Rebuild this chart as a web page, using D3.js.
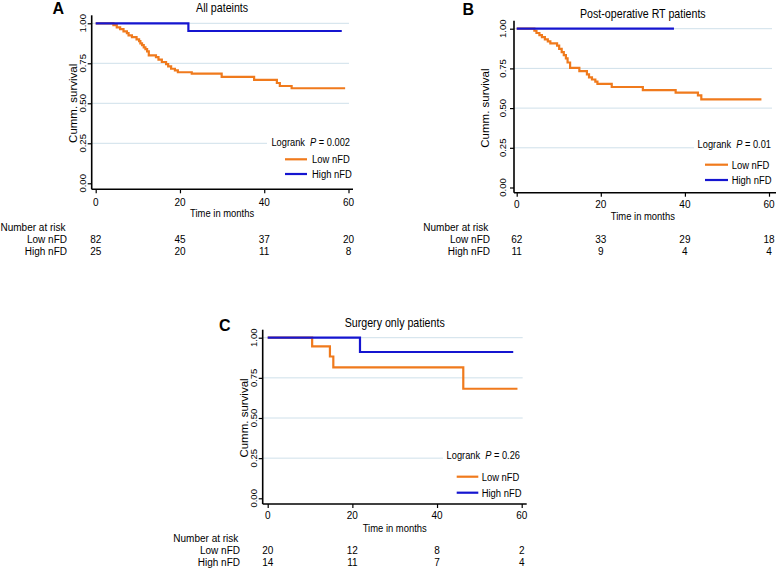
<!DOCTYPE html>
<html>
<head>
<meta charset="utf-8">
<script src="https://cdn.jsdelivr.net/npm/d3@7"></script>
<style>
  html, body { margin: 0; padding: 0; background: #fff; }
  svg { display: block; }
  text { font-family: 'Liberation Sans', Arial, sans-serif; fill: #000; }
</style>
</head>
<body>
<svg id="chart" width="778" height="569"></svg>
<script>
// ---------------- DATA ----------------
const timeTicks = [0, 20, 40, 60];
const survTicks = [0, 0.25, 0.5, 0.75, 1];
const gridTicks = [0.25, 0.5, 0.75, 1];
const groups = ["Low nFD", "High nFD"];

const titles = ["All pateints", "Post-operative RT patients", "Surgery only patients"];
const letters = ["A", "B", "C"];
const pValues = ["0.002", "0.01", "0.26"];

// Panel A — Kaplan–Meier steps (time in months, cumulative survival)
const aLowTime = [0, 4.2, 5.0, 5.8, 6.6, 7.4, 7.8, 8.6, 9.7, 10.3, 10.6, 11.0, 11.4, 11.8, 12.2, 12.6, 14.3, 14.9, 15.7, 16.7, 17.2, 17.9, 18.8, 19.5, 22.8, 29.9, 37.6, 43.0, 43.7, 46.5, 59.2];
const aLowSurv = [1, 0.988, 0.975, 0.963, 0.95, 0.938, 0.925, 0.913, 0.90, 0.888, 0.875, 0.863, 0.85, 0.838, 0.825, 0.80, 0.788, 0.773, 0.758, 0.745, 0.731, 0.716, 0.706, 0.694, 0.685, 0.665, 0.646, 0.627, 0.608, 0.594, 0.594];
const aHighTime = [0, 22.0, 58.4];
const aHighSurv = [1, 0.952, 0.952];

// Panel B
const bLowTime = [0, 4.2, 4.7, 5.4, 6.0, 6.7, 7.4, 8.0, 9.6, 10.1, 10.7, 11.2, 11.7, 12.1, 12.7, 14.9, 16.7, 17.2, 17.9, 18.7, 19.2, 22.6, 30.0, 37.8, 43.1, 43.9, 58.2];
const bLowSurv = [1, 0.987, 0.973, 0.96, 0.947, 0.933, 0.92, 0.907, 0.893, 0.873, 0.853, 0.833, 0.813, 0.787, 0.753, 0.733, 0.713, 0.693, 0.68, 0.667, 0.653, 0.633, 0.613, 0.597, 0.58, 0.555, 0.555];
const bHighTime = [0, 37.4];
const bHighSurv = [1, 1];

// Panel C
const cLowTime = [0, 10.5, 14.7, 15.5, 46.2, 59.0];
const cLowSurv = [1, 0.946, 0.883, 0.815, 0.682, 0.682];
const cHighTime = [0, 21.8, 58.0];
const cHighSurv = [1, 0.911, 0.911];

// Number at risk (at 0, 20, 40, 60 months)
const aRiskLow = [82, 45, 37, 20];
const aRiskHigh = [25, 20, 11, 8];
const bRiskLow = [62, 33, 29, 18];
const bRiskHigh = [11, 9, 4, 4];
const cRiskLow = [20, 12, 8, 2];
const cRiskHigh = [14, 11, 7, 4];

const colors = { low: "#F07A1C", high: "#1515D0" };

// ---------------- LAYOUT ----------------
const panels = [
  { x0: 95.7, x1: 348.5, yTop: 23.3, yBot: 183.3, axisX: 91.7, axisY: 189.3, right: 353,
    tickLblX: 85.5, yLblX: 77, letterX: 52.5, letterY: 14, titleY: 12,
    tickLblY: 205.5, xTitleY: 216.5, legRight: 350, legY: 141.7, legLineX: [285, 307], legTextX: 312, legRows: [159.3, 174],
    riskLeft: 0.5, riskLabelRight: 67, riskY: [230.5, 242.5, 254.5],
    low: [aLowTime, aLowSurv], high: [aHighTime, aHighSurv], risk: [aRiskLow, aRiskHigh] },
  { x0: 516.7, x1: 769, yTop: 28.7, yBot: 187.5, axisX: 514, axisY: 192.7, right: 776,
    tickLblX: 505.5, yLblX: 489, letterX: 462.5, letterY: 14.5, titleY: 17.5,
    tickLblY: 208, xTitleY: 220, legRight: 771, legY: 144, legLineX: [705, 728], legTextX: 731.7, legRows: [164.7, 180],
    riskLeft: 423.3, riskLabelRight: 490, riskY: [230.5, 242.5, 254.5],
    low: [bLowTime, bLowSurv], high: [bHighTime, bHighSurv], risk: [bRiskLow, bRiskHigh] },
  { x0: 267.7, x1: 521.7, yTop: 337.7, yBot: 498.3, axisX: 262.7, axisY: 504, right: 526.7,
    tickLblX: 256.5, yLblX: 248, letterX: 219, letterY: 331, titleY: 326.5,
    tickLblY: 519, xTitleY: 531.5, legRight: 520, legY: 455, legLineX: [456.7, 478.3], legTextX: 481.7, legRows: [476.7, 492.7],
    riskLeft: 173.3, riskLabelRight: 240, riskY: [541.5, 553.8, 566],
    low: [cLowTime, cLowSurv], high: [cHighTime, cHighSurv], risk: [cRiskLow, cRiskHigh] }
];

const NARROW = 0.82;
function narrowText(parent, x, y, size, anchor) {
  return parent.append("g")
    .attr("transform", `translate(${x},${y}) scale(${NARROW},1)`)
    .append("text")
    .attr("x", 0).attr("y", 0)
    .attr("font-size", size)
    .attr("text-anchor", anchor || "start");
}

const svg = d3.select("#chart");
svg.append("rect").attr("width", 778).attr("height", 569).attr("fill", "#fff");

panels.forEach((p, i) => {
  const g = svg.append("g");
  const x = d3.scaleLinear().domain([0, 60]).range([p.x0, p.x1]);
  const y = d3.scaleLinear().domain([0, 1]).range([p.yBot, p.yTop]);

  // gridlines
  g.selectAll("line.grid").data(gridTicks).join("line")
    .attr("class", "grid")
    .attr("x1", p.axisX).attr("x2", p.right - 4)
    .attr("y1", d => y(d)).attr("y2", d => y(d))
    .attr("stroke", "#cfe0ea").attr("stroke-width", 1);

  // legend background (covers gridline)
  const legLeftApprox = p.legRight - (i === 0 ? 80 : 74);
  g.append("rect")
    .attr("x", legLeftApprox - 3).attr("y", p.legY - 8)
    .attr("width", p.right - legLeftApprox).attr("height", 44)
    .attr("fill", "#fff");

  // curves
  const line = d3.line().x(d => x(d[0])).y(d => y(d[1])).curve(d3.curveStepAfter);
  const lowData = d3.zip(p.low[0], p.low[1]);
  const highData = d3.zip(p.high[0], p.high[1]);
  g.append("path").datum(lowData).attr("d", line)
    .attr("fill", "none").attr("stroke", colors.low).attr("stroke-width", 2.2);
  g.append("path").datum(highData).attr("d", line)
    .attr("fill", "none").attr("stroke", colors.high).attr("stroke-width", 2.2);

  // y axis
  const yAxis = d3.axisLeft(y).tickValues(survTicks).tickSize(4).tickFormat("");
  const ya = g.append("g").attr("transform", `translate(${p.axisX},0)`).call(yAxis);
  ya.select(".domain").remove();
  ya.selectAll(".tick line").attr("stroke", "#000").attr("stroke-width", 1.2);
  g.append("line").attr("x1", p.axisX).attr("x2", p.axisX)
    .attr("y1", p.yTop - 8).attr("y2", p.axisY)
    .attr("stroke", "#000").attr("stroke-width", 1.6);
  g.selectAll("text.ytl").data(survTicks).join("text")
    .attr("class", "ytl")
    .attr("transform", d => `translate(${p.tickLblX},${y(d)}) rotate(-90)`)
    .attr("text-anchor", "middle").attr("font-size", 9.5)
    .text(d3.format(".2f"));

  // x axis
  const xAxis = d3.axisBottom(x).tickValues(timeTicks).tickSize(4).tickFormat("");
  const xa = g.append("g").attr("transform", `translate(0,${p.axisY})`).call(xAxis);
  xa.select(".domain").remove();
  xa.selectAll(".tick line").attr("stroke", "#000").attr("stroke-width", 1.2);
  g.append("line").attr("x1", p.axisX).attr("x2", p.right)
    .attr("y1", p.axisY).attr("y2", p.axisY)
    .attr("stroke", "#000").attr("stroke-width", 1.6);
  g.selectAll("text.xtl").data(timeTicks).join("text")
    .attr("class", "xtl")
    .attr("x", d => x(d)).attr("y", p.tickLblY)
    .attr("text-anchor", "middle").attr("font-size", 10)
    .text(d => d);

  // axis titles
  narrowText(g, (p.x0 + p.x1) / 2, p.xTitleY, 11.5, "middle").text("Time in months");
  g.append("text")
    .attr("transform", `translate(${p.yLblX},${(p.yTop + p.yBot) / 2}) rotate(-90)`)
    .attr("text-anchor", "middle").attr("font-size", 11.5).text("Cumm. survival");

  // title & letter
  narrowText(g, (p.x0 + p.x1) / 2, p.titleY, 13, "middle").text(titles[i]);
  g.append("text")
    .attr("x", p.letterX).attr("y", p.letterY)
    .attr("font-size", 16).attr("font-weight", "bold").text(letters[i]);

  // legend
  const lg = narrowText(g, p.legRight, p.legY + 4, 11.3, "end");
  lg.append("tspan").text("Logrank\u00A0\u00A0");
  lg.append("tspan").attr("font-style", "italic").text("P");
  lg.append("tspan").text(" = " + pValues[i]);
  [colors.low, colors.high].forEach((c, k) => {
    g.append("line").attr("x1", p.legLineX[0]).attr("x2", p.legLineX[1])
      .attr("y1", p.legRows[k]).attr("y2", p.legRows[k])
      .attr("stroke", c).attr("stroke-width", 2.2);
    narrowText(g, p.legTextX, p.legRows[k] + 4, 11.5, "start").text(groups[k]);
  });

  // risk table
  g.append("text")
    .attr("x", p.riskLeft).attr("y", p.riskY[0])
    .attr("font-size", 10).text("Number at risk");
  p.risk.forEach((row, k) => {
    g.append("text")
      .attr("x", p.riskLabelRight).attr("y", p.riskY[k + 1])
      .attr("text-anchor", "end").attr("font-size", 10).text(groups[k]);
    g.selectAll(null).data(row).join("text")
      .attr("x", (d, j) => x(timeTicks[j])).attr("y", p.riskY[k + 1])
      .attr("text-anchor", "middle").attr("font-size", 10).text(d => d);
  });
});
</script>
</body>
</html>
